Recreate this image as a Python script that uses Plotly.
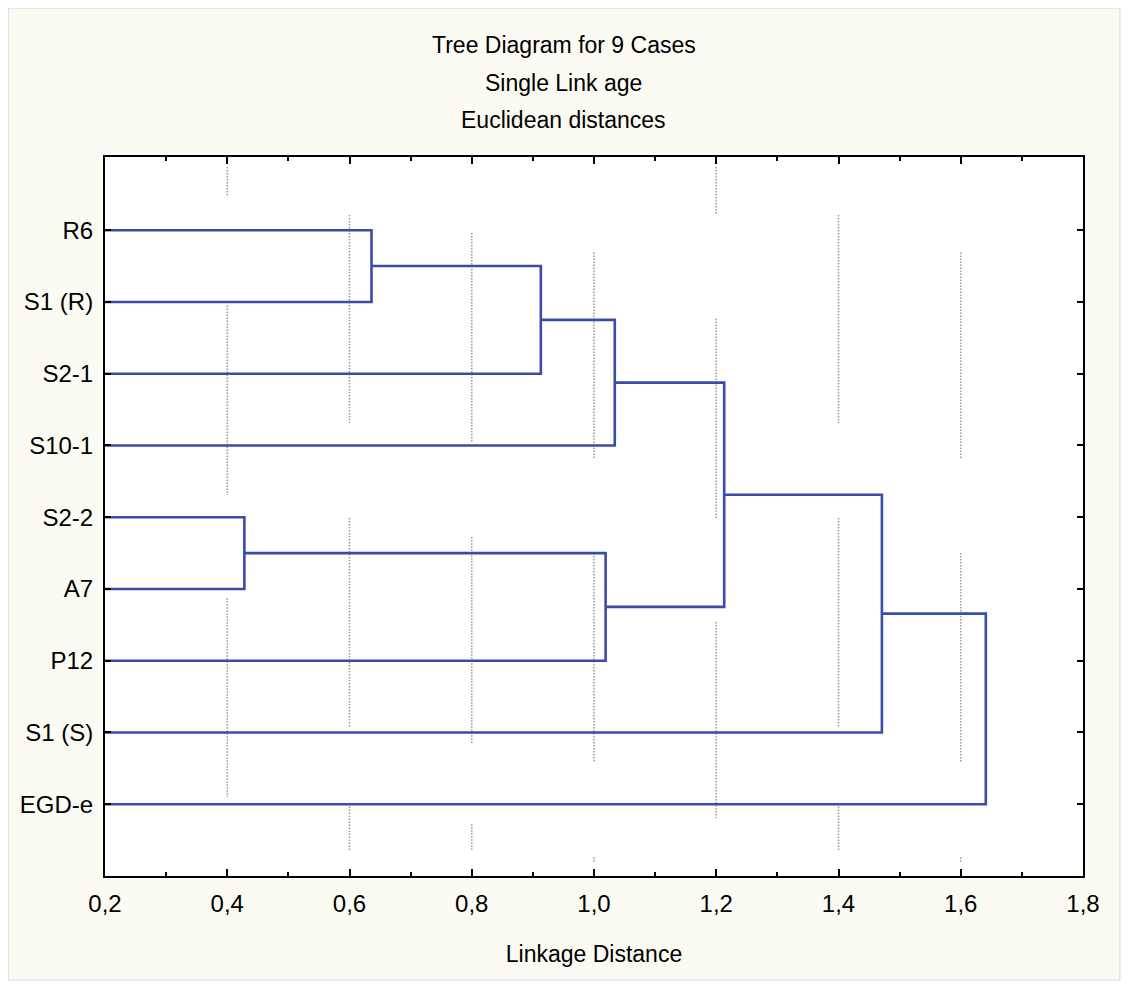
import plotly.graph_objects as go

# ---------------- data ----------------
leaf_labels = ["R6", "S1 (R)", "S2-1", "S10-1", "S2-2", "A7", "P12", "S1 (S)", "EGD-e"]
# merges: (child_a, child_b, linkage distance); leaves are 0..8, new clusters 9, 10, ...
merge_a = [0, 9, 10, 4, 12, 11, 14, 15]
merge_b = [1, 2, 3, 5, 6, 13, 7, 8]
merge_dist = [0.636, 0.913, 1.034, 0.428, 1.019, 1.213, 1.471, 1.641]

x_ticks = [0.2, 0.4, 0.6, 0.8, 1.0, 1.2, 1.4, 1.6, 1.8]
title_lines = ["Tree Diagram for 9 Cases", "Single Link age", "Euclidean distances"]
x_title = "Linkage Distance"

# decorative broken dotted grid (Statistica style): x value -> list of (y_from, y_to) in leaf units
grid_segments = {
    0.4: [(0.12, 0.54), (2.05, 4.69), (6.13, 8.90)],
    0.6: [(0.79, 3.69), (5.01, 7.92), (9.03, 9.65)],
    0.8: [(1.04, 3.95), (5.28, 8.15), (9.28, 9.65)],
    1.0: [(1.31, 4.18), (5.50, 8.41), (9.74, 9.80)],
    1.2: [(0.12, 0.79), (2.23, 5.01), (6.46, 9.19)],
    1.4: [(0.79, 3.69), (5.01, 7.92), (9.03, 9.65)],
    1.6: [(1.31, 4.18), (5.50, 8.41), (9.74, 9.80)],
}

# ---------------- build dendrogram ----------------
n = len(leaf_labels)
node_x = {i: 0.0 for i in range(n)}
node_y = {i: float(i + 1) for i in range(n)}
xs, ys = [], []
for k, (a, b, d) in enumerate(zip(merge_a, merge_b, merge_dist)):
    xs += [node_x[a], d, d, node_x[b], None]
    ys += [node_y[a], node_y[a], node_y[b], node_y[b], None]
    node_x[n + k] = d
    node_y[n + k] = (node_y[a] + node_y[b]) / 2

FONT = "Liberation Sans, Arial, sans-serif"
BLUE = "#3a4ca8"

fig = go.Figure()
fig.add_trace(go.Scatter(x=xs, y=ys, mode="lines",
                         line=dict(color=BLUE, width=2.6), hoverinfo="skip",
                         showlegend=False))

PW, PH = 981.0, 719.0  # plot area size in px (for decoration placement)
shapes = [
    # cream panel
    dict(type="rect", xref="paper", yref="paper", x0=-0.0989, x1=1.0377, y0=-0.1446, y1=1.2072,
         fillcolor="#fcfbf3", line=dict(color="#e2e2e2", width=1.5), layer="below"),
    # white plot area
    dict(type="rect", xref="paper", yref="paper", x0=0, x1=1, y0=0, y1=1,
         fillcolor="white", line=dict(width=0), layer="below"),
]
for gx, segs in grid_segments.items():
    for y0, y1 in segs:
        shapes.append(dict(type="line", xref="x", yref="y", x0=gx, x1=gx, y0=y0, y1=y1,
                           line=dict(color="#9c9c9c", width=1.6, dash="1.5px,1.5px"),
                           layer="below"))

annotations = []
title_y_px = [45, 83, 120]   # page y of each title line centre
for txt, py in zip(title_lines, title_y_px):
    annotations.append(dict(text=txt, xref="paper", yref="paper",
                            x=(562 - 102) / PW, y=1 + (157 - py) / PH,
                            xanchor="center", yanchor="middle", showarrow=False,
                            font=dict(family=FONT, size=23, color="black")))

fig.update_layout(
    width=1122, height=990,
    margin=dict(l=94, r=47, t=149, b=122),
    paper_bgcolor="white",
    plot_bgcolor="white",
    separators=", ",
    font=dict(family=FONT, size=24, color="black"),
    shapes=shapes,
    annotations=annotations,
    xaxis=dict(range=[0.2, 1.8], tickvals=x_ticks, tickformat=".1f",
               ticks="inside", ticklen=7, tickwidth=2, tickcolor="black",
               minor=dict(dtick=0.1, tick0=0.2, ticks="inside", ticklen=4, tickwidth=1.5,
                          tickcolor="black", showgrid=False),
               showline=True, linecolor="black", linewidth=2, mirror="allticks",
               showgrid=False, zeroline=False, ticklabelstandoff=5,
               tickfont=dict(size=24),
               title=dict(text=x_title, standoff=30, font=dict(size=23))),
    yaxis=dict(range=[10, -0.02], tickvals=list(range(1, n + 1)), ticktext=leaf_labels,
               ticks="inside", ticklen=6, tickwidth=2, tickcolor="black",
               showline=True, linecolor="black", linewidth=2, mirror="allticks",
               showgrid=False, zeroline=False, ticklabelstandoff=5,
               tickfont=dict(size=24)),
)

fig.write_html("out.html")
